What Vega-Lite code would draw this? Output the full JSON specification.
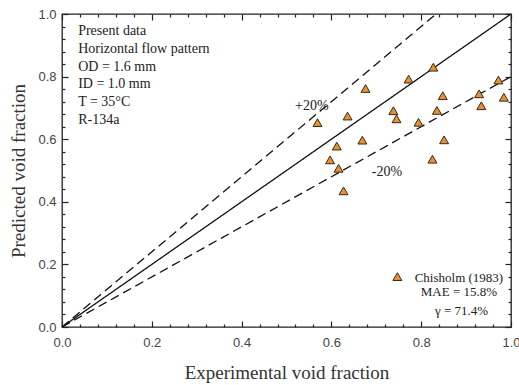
{
  "$schema": "https://vega.github.io/schema/vega-lite/v6.json",
  "width": 449,
  "height": 313,
  "autosize": {"type": "none"},
  "padding": {"left": 62, "top": 14, "right": 8, "bottom": 58},
  "background": "white",
  "config": {
    "view": {"stroke": "#222", "strokeWidth": 1.3, "fill": "transparent"},
    "axis": {
      "grid": false,
      "domain": false,
      "labelFont": "Liberation Sans",
      "labelFontSize": 13,
      "labelColor": "#444",
      "titleFont": "Liberation Serif",
      "titleFontSize": 19,
      "titleFontWeight": "normal",
      "titleColor": "#333"
    }
  },
  "datasets": {
    "points": [
      {"exp": 0.569, "pred": 0.653},
      {"exp": 0.636, "pred": 0.674},
      {"exp": 0.676, "pred": 0.762},
      {"exp": 0.612, "pred": 0.578},
      {"exp": 0.669, "pred": 0.597},
      {"exp": 0.597, "pred": 0.534},
      {"exp": 0.616, "pred": 0.507},
      {"exp": 0.627, "pred": 0.435},
      {"exp": 0.772, "pred": 0.792},
      {"exp": 0.738, "pred": 0.691},
      {"exp": 0.745, "pred": 0.665},
      {"exp": 0.794, "pred": 0.654},
      {"exp": 0.827, "pred": 0.83},
      {"exp": 0.848, "pred": 0.739},
      {"exp": 0.835, "pred": 0.692},
      {"exp": 0.851, "pred": 0.598},
      {"exp": 0.825, "pred": 0.536},
      {"exp": 0.929, "pred": 0.745},
      {"exp": 0.934, "pred": 0.707},
      {"exp": 0.972, "pred": 0.789},
      {"exp": 0.984, "pred": 0.734}
    ],
    "lines": [
      {"series": "ref", "exp": 0, "pred": 0},
      {"series": "ref", "exp": 1, "pred": 1},
      {"series": "plus", "exp": 0, "pred": 0},
      {"series": "plus", "exp": 0.8333, "pred": 1},
      {"series": "minus", "exp": 0, "pred": 0},
      {"series": "minus", "exp": 1, "pred": 0.8}
    ],
    "notes": [
      {"label": "Present data", "exp": 0.036, "pred": 0.946},
      {"label": "Horizontal flow pattern", "exp": 0.036, "pred": 0.889},
      {"label": "OD = 1.6 mm", "exp": 0.036, "pred": 0.832},
      {"label": "ID = 1.0 mm", "exp": 0.036, "pred": 0.775},
      {"label": "T = 35°C", "exp": 0.036, "pred": 0.718},
      {"label": "R-134a", "exp": 0.036, "pred": 0.661},
      {"label": "+20%", "exp": 0.519, "pred": 0.706},
      {"label": "-20%", "exp": 0.69, "pred": 0.496}
    ],
    "legendtext": [
      {"label": "Chisholm (1983)", "exp": 0.884, "pred": 0.158},
      {"label": "MAE = 15.8%", "exp": 0.884, "pred": 0.112},
      {"label": "γ = 71.4%", "exp": 0.89, "pred": 0.05}
    ],
    "legendmark": [
      {"exp": 0.747, "pred": 0.161}
    ]
  },
  "resolve": {"axis": {"x": "independent", "y": "independent"}},
  "layer": [
    {
      "data": {"name": "lines"},
      "mark": {"type": "line", "color": "#111", "strokeWidth": 1.3},
      "encoding": {
        "x": {
          "field": "exp", "type": "quantitative",
          "scale": {"domain": [0, 1], "nice": false, "zero": false},
          "axis": {
            "orient": "bottom",
            "title": "Experimental void fraction",
            "values": [0,0.2,0.4,0.6,0.8,1],
            "format": ".1f",
            "offset": -6,
            "zindex": 2,
            "ticks": true,
            "tickSize": 6,
            "tickColor": "#222",
            "tickWidth": 1.2,
            "labelPadding": 9,
            "labelFlush": false,
            "labelOverlap": false,
            "titlePadding": 14
          }
        },
        "y": {
          "field": "pred", "type": "quantitative",
          "scale": {"domain": [0, 1], "nice": false, "zero": false},
          "axis": {
            "orient": "left",
            "title": "Predicted void fraction",
            "values": [0,0.2,0.4,0.6,0.8,1],
            "format": ".1f",
            "offset": -6,
            "zindex": 2,
            "ticks": true,
            "tickSize": 6,
            "tickColor": "#222",
            "tickWidth": 1.2,
            "labelPadding": 6,
            "labelFlush": false,
            "labelOverlap": false,
            "titlePadding": 9
          }
        },
        "detail": {"field": "series"},
        "strokeDash": {
          "field": "series", "type": "nominal",
          "scale": {"domain": ["ref", "plus", "minus"], "range": [[1, 0], [9, 5], [9, 5]]},
          "legend": null
        }
      }
    },
    {
      "data": {"name": "points"},
      "mark": {"type": "point", "shape": "triangle-up", "filled": true, "fill": "#E3913B", "stroke": "#3a2710", "strokeWidth": 1, "size": 80, "opacity": 1},
      "encoding": {
        "x": {
          "field": "exp", "type": "quantitative",
          "axis": {
            "orient": "top", "title": null, "labels": false,
            "values": [0,0.2,0.4,0.6,0.8,1],
            "offset": -6, "zindex": 2,
            "ticks": true, "tickSize": 6, "tickColor": "#222", "tickWidth": 1.2
          }
        },
        "y": {
          "field": "pred", "type": "quantitative",
          "axis": {
            "orient": "right", "title": null, "labels": false,
            "values": [0,0.2,0.4,0.6,0.8,1],
            "offset": -6, "zindex": 2,
            "ticks": true, "tickSize": 6, "tickColor": "#222", "tickWidth": 1.2
          }
        }
      }
    },
    {
      "data": {"name": "legendmark"},
      "mark": {"type": "point", "shape": "triangle-up", "filled": true, "fill": "#E3913B", "stroke": "#3a2710", "strokeWidth": 1, "size": 80, "opacity": 1},
      "encoding": {
        "x": {
          "field": "exp", "type": "quantitative",
          "axis": {
            "orient": "bottom", "title": null, "labels": false,
            "values": [0.04,0.08,0.12,0.16,0.24,0.28,0.32,0.36,0.44,0.48,0.52,0.56,0.64,0.68,0.72,0.76,0.84,0.88,0.92,0.96],
            "offset": -3, "zindex": 2,
            "ticks": true, "tickSize": 3, "tickColor": "#222", "tickWidth": 1.2
          }
        },
        "y": {
          "field": "pred", "type": "quantitative",
          "axis": {
            "orient": "left", "title": null, "labels": false,
            "values": [0.04,0.08,0.12,0.16,0.24,0.28,0.32,0.36,0.44,0.48,0.52,0.56,0.64,0.68,0.72,0.76,0.84,0.88,0.92,0.96],
            "offset": -3, "zindex": 2,
            "ticks": true, "tickSize": 3, "tickColor": "#222", "tickWidth": 1.2
          }
        }
      }
    },
    {
      "data": {"name": "notes"},
      "mark": {"type": "text", "align": "left", "baseline": "middle", "font": "Liberation Serif", "fontSize": 14, "color": "#222"},
      "encoding": {
        "x": {
          "field": "exp", "type": "quantitative",
          "axis": {
            "orient": "top", "title": null, "labels": false,
            "values": [0.04,0.08,0.12,0.16,0.24,0.28,0.32,0.36,0.44,0.48,0.52,0.56,0.64,0.68,0.72,0.76,0.84,0.88,0.92,0.96],
            "offset": -3, "zindex": 2,
            "ticks": true, "tickSize": 3, "tickColor": "#222", "tickWidth": 1.2
          }
        },
        "y": {
          "field": "pred", "type": "quantitative",
          "axis": {
            "orient": "right", "title": null, "labels": false,
            "values": [0.04,0.08,0.12,0.16,0.24,0.28,0.32,0.36,0.44,0.48,0.52,0.56,0.64,0.68,0.72,0.76,0.84,0.88,0.92,0.96],
            "offset": -3, "zindex": 2,
            "ticks": true, "tickSize": 3, "tickColor": "#222", "tickWidth": 1.2
          }
        },
        "text": {"field": "label"}
      }
    },
    {
      "data": {"name": "legendtext"},
      "mark": {"type": "text", "align": "center", "baseline": "middle", "font": "Liberation Serif", "fontSize": 13, "color": "#222"},
      "encoding": {
        "x": {"field": "exp", "type": "quantitative", "axis": null},
        "y": {"field": "pred", "type": "quantitative", "axis": null},
        "text": {"field": "label"}
      }
    }
  ]
}
